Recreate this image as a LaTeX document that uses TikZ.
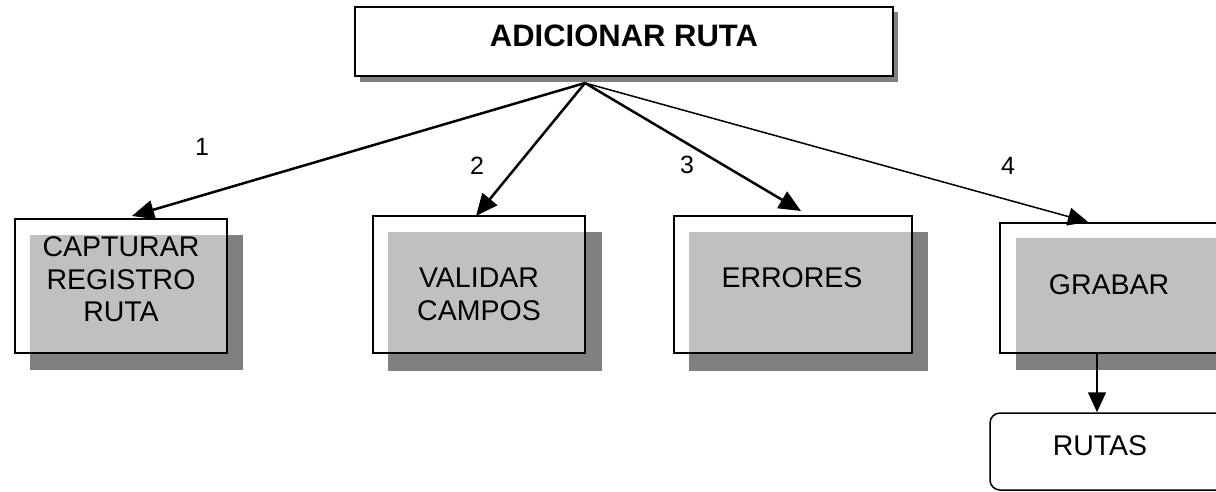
\documentclass[tikz,border=0pt]{standalone}
\usepackage{fontspec}
\setmainfont{Liberation Sans}
\usetikzlibrary{arrows.meta,calc}
\definecolor{shadowdark}{RGB}{128,128,128}
\definecolor{shadowlight}{RGB}{192,192,192}
\tikzset{
  boxframe/.style={draw=black, line width=1.5pt, inner sep=0pt},
  boxtext/.style={inner sep=0pt, align=center, font=\fontsize{28.5}{32.5}\selectfont},
  numlabel/.style={inner sep=0pt, font=\fontsize{25}{28}\selectfont},
  bigarrow/.style={line width=2.5pt, -{Triangle[length=22pt,width=19pt]}},
  thinarrow/.style={line width=1.5pt, -{Triangle[length=20pt,width=18pt]}},
}
\begin{document}
\begin{tikzpicture}[x=1pt,y=-1pt]
\useasboundingbox (0,0) rectangle (1216,491);
\clip (0,0) rectangle (1216,491);
\fill[white] (0,0) rectangle (1216,491);

% top box
\fill[shadowdark] (360,12) rectangle (898,82);
\node[boxframe, fill=white, line width=2pt, minimum width=538pt, minimum height=69pt] (top) at (624,41.5) {};
\node[inner sep=0pt, font=\fontsize{31}{34}\selectfont\bfseries] (toptext) at (624,36) {ADICIONAR RUTA};

% box 1
\fill[shadowdark] (30,235) rectangle (243,370);
\fill[shadowlight] (30,235) rectangle (227,353);
\node[boxframe, minimum width=212pt, minimum height=134pt] (c1) at (121,286) {};
\node[boxtext] (c1t) at (121,279.5) {CAPTURAR\\REGISTRO\\RUTA};

% box 2
\fill[shadowdark] (388,232) rectangle (602,371);
\fill[shadowlight] (388,232) rectangle (585,353);
\node[boxframe, minimum width=212pt, minimum height=137pt] (c2) at (479,284.5) {};
\node[boxtext] (c2t) at (479,294.5) {VALIDAR\\CAMPOS};

% box 3
\fill[shadowdark] (689,232) rectangle (928,371);
\fill[shadowlight] (689,232) rectangle (912,353);
\node[boxframe, minimum width=238pt, minimum height=137pt] (c3) at (793,284.5) {};
\node[boxtext] (c3t) at (792,277.5) {ERRORES};

% box 4
\fill[shadowdark] (1016,238) rectangle (1260,370);
\fill[shadowlight] (1016,238) rectangle (1240,353);
\node[boxframe, minimum width=240pt, minimum height=130pt] (c4) at (1120,288) {};
\node[boxtext] (c4t) at (1109,285) {GRABAR};

% rutas store
\node[draw=black, line width=1.5pt, rounded corners=10pt, minimum width=260pt, minimum height=77pt, inner sep=0pt] (rutas) at (1120,451.5) {};
\node[boxtext] (rutast) at (1100,446) {RUTAS};

% arrows
\coordinate (o) at (585,83);
\coordinate (t1) at (132,216);
\coordinate (t2) at (476,216);
\coordinate (t3) at (801,211);
\coordinate (t4) at (1088,222);
\coordinate (g) at (1097,353);
\draw[bigarrow] (o) -- (t1);
\draw[bigarrow] (o) -- (t2);
\draw[bigarrow] (o) -- (t3);
\draw[thinarrow] (o) -- (t4);
\draw[thinarrow] (g) -- (g |- rutas.north);

% labels
\node[numlabel] (n1) at (202,147) {1};
\node[numlabel] (n2) at (477,166) {2};
\node[numlabel] (n3) at (687,165) {3};
\node[numlabel] (n4) at (1008,166) {4};
\end{tikzpicture}
\end{document}
